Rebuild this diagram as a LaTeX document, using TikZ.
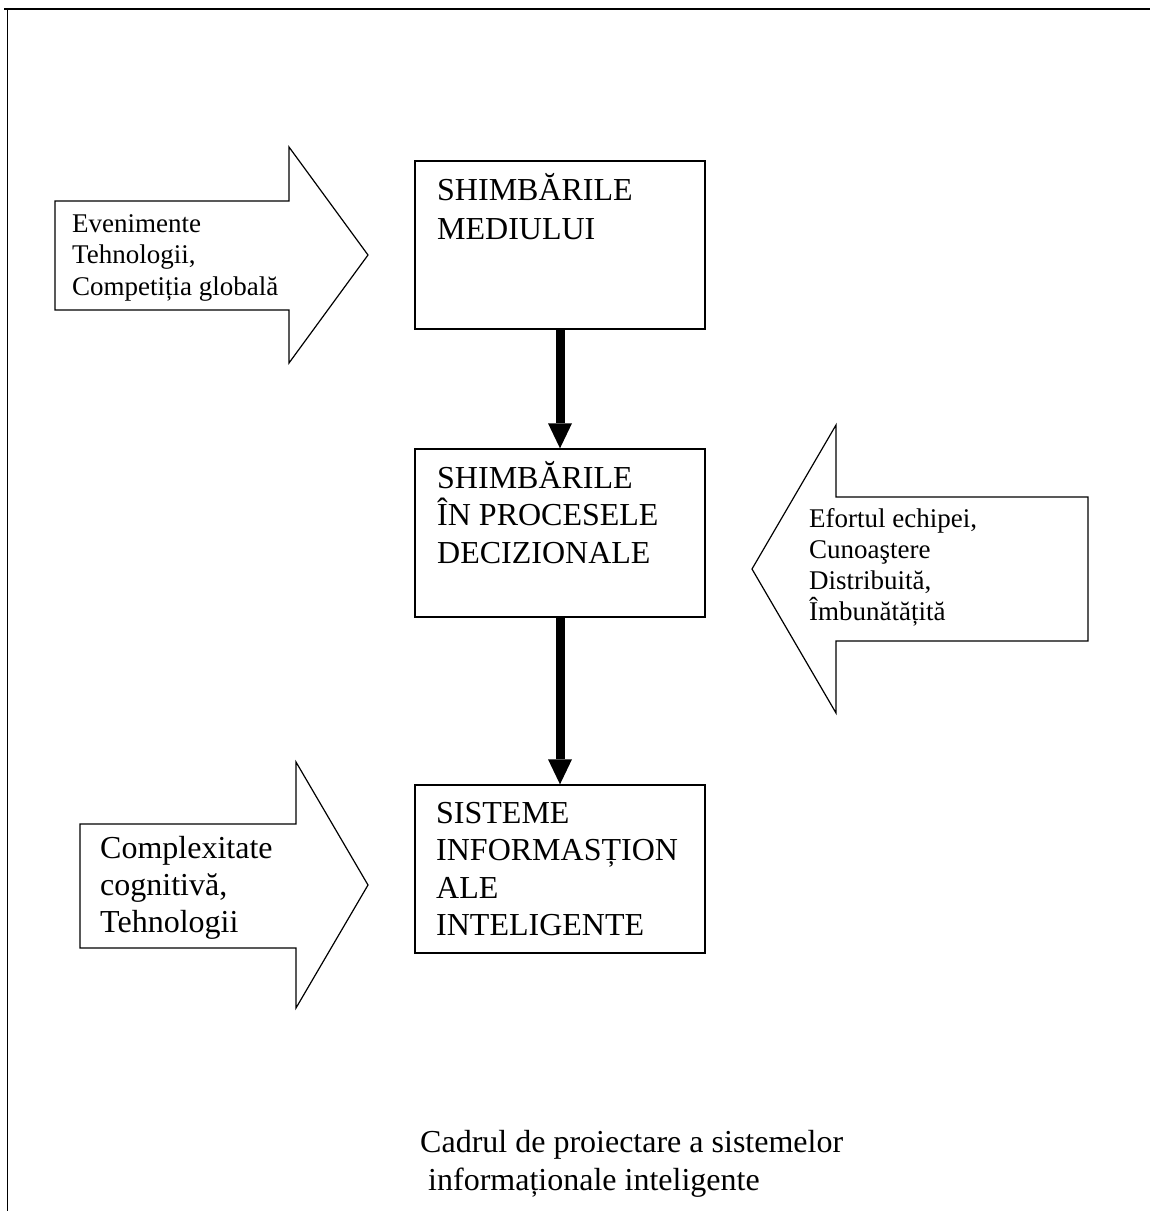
\documentclass[tikz,border=0pt]{standalone}
\usepackage{fontspec}
\setmainfont{Liberation Serif}
\usetikzlibrary{arrows.meta}
% stack of lines with a fixed line pitch; the baseline is that of the first line
\newcommand\stackrows[2]{\vtop{\baselineskip=#1\lineskiplimit=-\maxdimen\lineskip=0pt #2}}
\begin{document}
\begin{tikzpicture}[x=1pt,y=-1pt,
  stagebox/.style={draw, line width=1.4pt, minimum width=290pt, minimum height=168pt, inner sep=0pt},
  blockarrow/.style={draw, line width=1.2pt, line join=miter},
  bigtext/.style={anchor=base west, inner sep=0pt, font=\fontsize{32}{38}\selectfont},
  smalltext/.style={anchor=base west, inner sep=0pt, font=\fontsize{27}{32}\selectfont},
  flow/.style={line width=9pt, -{Triangle[width=24pt,length=25pt,line width=0pt]}}]

% page and frame
\fill[white] (0,0) rectangle (1150,1211);
\useasboundingbox (0,0) rectangle (1150,1211);
\draw[line width=1.8pt] (4,9) -- (1150,9);
\draw[line width=1.5pt] (7.5,9) -- (7.5,1211);

% the three stages
\node[stagebox] (b1) at (560,245) {};
\node[stagebox] (b2) at (560,533) {};
\node[stagebox] (b3) at (560,869) {};

\node[bigtext] (t1) at (437,200) {\stackrows{39pt}{\hbox{SHIMBĂRILE}\hbox{MEDIULUI}}};
\node[bigtext] (t2) at (437,488) {\stackrows{37.5pt}{\hbox{SHIMBĂRILE}\hbox{ÎN PROCESELE}\hbox{DECIZIONALE}}};
\node[bigtext] (t3) at (436,823) {\stackrows{37.5pt}{\hbox{SISTEME}\hbox{INFORMASȚION}\hbox{ALE}\hbox{INTELIGENTE}}};

% flow between stages
\draw[flow] (b1.south) -- (b2.north);
\draw[flow] (b2.south) -- (b3.north);

% external influences
\draw[blockarrow] (55,201) -- (289,201) -- (289,147) -- (368,255) -- (289,363) -- (289,310) -- (55,310) -- cycle;
\node[smalltext] (a1) at (72,232) {\stackrows{31.5pt}{\hbox{Evenimente}\hbox{Tehnologii,}\hbox{Competiția globală}}};

\draw[blockarrow] (1088,497) -- (836,497) -- (836,425) -- (752,569) -- (836,713) -- (836,641) -- (1088,641) -- cycle;
\node[smalltext] (a2) at (809,527) {\stackrows{31.3pt}{\hbox{Efortul echipei,}\hbox{Cunoaştere}\hbox{Distribuită,}\hbox{Îmbunătățită}}};

\draw[blockarrow] (80,824) -- (296,824) -- (296,762) -- (368,885) -- (296,1008) -- (296,948) -- (80,948) -- cycle;
\node[bigtext] (a3) at (100,858) {\stackrows{37pt}{\hbox{Complexitate}\hbox{cognitivă,}\hbox{Tehnologii}}};

% caption
\node[bigtext] (cap) at (420,1152) {\stackrows{38pt}{\hbox{Cadrul de proiectare a sistemelor}\hbox{\ informaționale inteligente}}};
\end{tikzpicture}
\end{document}
